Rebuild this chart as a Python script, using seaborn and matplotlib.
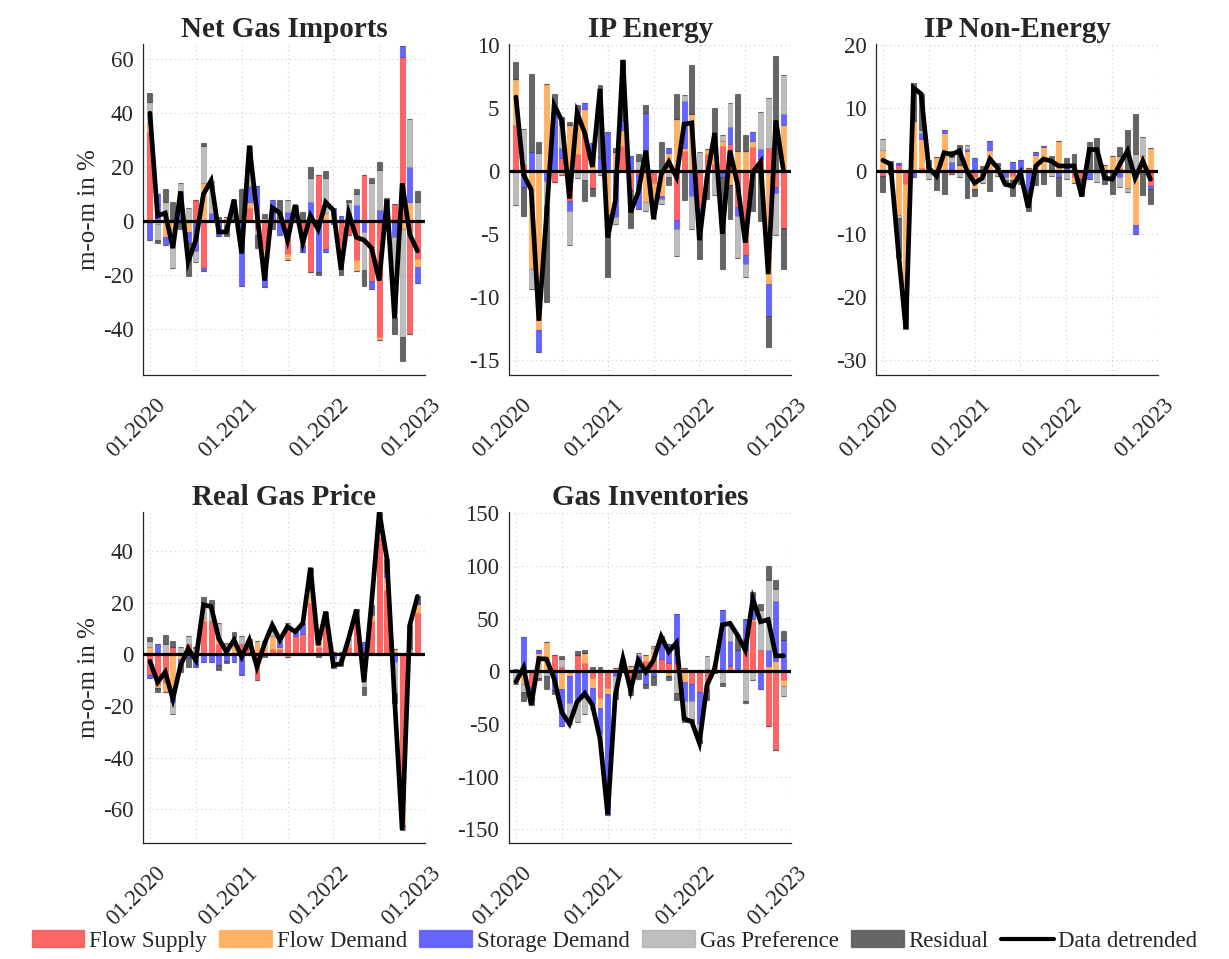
import matplotlib

matplotlib.use("Agg")

import matplotlib.pyplot as plt
import numpy as np
import seaborn as sns
from matplotlib.patches import Patch
from matplotlib.lines import Line2D
from matplotlib.transforms import ScaledTranslation

sns.set_theme(style="white")
plt.rcParams["font.family"] = ["Liberation Serif", "DejaVu Serif"]
plt.rcParams["axes.unicode_minus"] = False

# ---- data (m-o-m in %, 01.2020 ... 12.2022) ----
tick_labels = ["01.2020", "01.2021", "01.2022", "01.2023"]
series_names = ["Flow Supply", "Flow Demand", "Storage Demand", "Gas Preference", "Residual"]

imports_supply = [33, 0, 0, 0, 0, 0, 8, -17.5, 0, 0, 0, 0, 0, 5, -3, -10, 0, 1,
                  -12, 0, -8, -19, 17, -10.5, 0, -9, -5, -14.5, 17, -22, -43, 3, 6.5, 61, -42, -14]
imports_demand = [3, -1, -6, -3, 0, -4, 0, 14, 0, 0, 1.5, 0, 0, 2, 0, -4, 0, 0,
                  -2.5, 0, -1, 0, 0, 3, 2, -5, 0, -4, 0, 0, -1, 0, 0, -3, 7, -3]
imports_storage = [-7, 10, -3, 0, 11, -4, -11, -1, 3, -5.5, 0, 0.5, -24, 6, 13, -10.5, 8, -5,
                   3.5, 4, -2.5, 7, -19, -1, 3, 2, 3, 6, -4, -3, 4, 0, -6, 4, 13, -6]
imports_pref = [8, -6, 7, -14.5, 3, 5, -4, 14, 12, 0, -1.5, 0, 0, 8, -2, 1, 0, 0,
                4.5, 0, 0, 9, 0, 13, 0, 0, 4, 4, -14, 14, 15, 4, -30, -40, 18, 7]
imports_resid = [3.5, -1, 5, 7, -3, -12.5, 0, 1, 0, 1.5, -4, 7.5, 12, 7, -5, 1.5, -3, 7,
                 0, 2, 3.5, 4, -1, 2.5, -1, -6, 1, 2, -6, 2, 3, 1.5, -6, -9, 0, 4]
imports_data = [40, 2, 3, -10, 11, -15, -7, 10, 15, -4, -4, 8, -12, 28, 3, -22, 5, 3,
                -7, 6, -8, 2, -3, 7, 4, -18, 3, -6, -7, -10, -22, 8, -36, 14, -5, -11]

ipe_supply = [3.6, 0.5, 0, 0, 0, -0.9, 1, -2.4, 1.3, 3, -1.4, 0, 0, 0, 2, -1.5, -0.3, 1.5,
              -1, 0, 0, -3.9, 1.6, 0, -3, 1.3, 0.5, 2, 2.1, -2.9, -6.7, 1.9, 0.9, 1.8, -1.3, -4.5]
ipe_demand = [3.7, 0, -7.8, -12.6, 6.9, 0, -0.3, 3.6, 3.4, 1.9, 1.5, 0, -3.5, 1.5, 1.2, 0, 0, -2.5,
              -2, -2, 1.4, 4.1, 0.2, 4.5, 0, 0.4, 1, 0.4, -1.1, 1.6, 1.6, 0.5, 0, -9, 0, 3.6]
ipe_storage = [0, -1.3, 1.5, -1.8, -0.8, 4.7, 0.8, -0.8, 0, 0.5, 0.7, 1, 3.1, -3.7, 0.8, 1.2, -2.7, 3.1,
               0, -0.2, 0.4, -0.7, 3.7, -2, -1.5, -0.4, 0, -0.5, 1.4, -0.7, -0.7, 0.7, 0.8, -2.5, -0.5, 0.9]
ipe_pref = [-2.7, 2.8, -1.6, 1.4, -2, 0.3, 1.8, -2.7, -0.6, -0.7, 0, -0.3, 0, -0.5, 0, 0, 0.8, -0.7,
            -0.8, -0.4, -0.5, -2.2, 0.5, -2.6, 1.5, 0, -1.9, 0.4, 1.9, -3.3, -1, 0, 3, 4, -3.3, 3.1]
ipe_resid = [1.3, -2.3, 6.2, 0.9, -7.6, 1.1, 0.7, 0.3, 0.5, -1.7, -0.6, 5.8, -4.9, 0.3, 4.8, -3, 0.5, 0.6,
             0, 2.3, -0.6, 2, -2.3, 3.9, -2.5, -1.8, 3.5, -7.3, -2.7, 4.5, 1.2, -3.2, -4, -2.5, 9.1, -3.3]
ipe_data = [5.85, -0.3, -1.5, -11.9, -3.5, 5.2, 4.0, -2.2, 4.6, 3.0, 0.3, 6.5, -5.3, -2.4, 8.8, -3.3,
            -1.7, 1.6, -3.8, -0.3, 0.7, -0.5, 3.7, 3.8, -5.5, -0.5, 3.0, -5.0, 1.6, -1.1, -5.7, -0.1,
            0.7, -8.2, 4.0, 0]

ipn_supply = [-0.8, 0, 1, -2, 0, 0.5, 0, 0, 0, -0.5, 0, 0, -1, -0.7, 0, 0, 0, -0.8,
              0, 0.5, 0, 0, 0, 0, 0, -0.9, -1.2, 0, 0, 0, 0, 0.5, 0, 0, 0, -2.4]
ipn_demand = [3.4, 0, -7, -19, 8, 4.5, 0, 2.2, 6, 0, 1, 3.2, -1.8, 0, 3.4, 0, 0, -0.6,
              -1, 0, 2.5, 3.8, 0, 4.8, 0, -1, 0, 0, 0, 1, 2.4, 1.9, -2.7, -8.5, 2.4, 3.7]
ipn_storage = [0, -0.5, 0.3, -1.5, -1, 1, 0, -0.8, 0.5, 1.5, 0, 0.3, 2, 0, 1.4, 1, -1, 1.5,
               1.7, -3, 0.5, 0.2, 0, -1, 0.5, 0, 0, -1.2, 0, 0, 0, -1, 0, -1.5, 0, -0.5]
ipn_pref = [1.6, 0, -0.5, 0, 0, 0.5, -1.2, 0, 0, 0.8, -1, 0.7, 0, -1.2, 0, -0.8, -0.5, 0,
            -0.5, 0, 0, 0, -0.8, 0, -1.3, 0, 0, 0, -1.8, 0, 0, -1.5, -0.6, 2.7, 3, 0]
ipn_resid = [-2.5, 1.6, -6.3, -2.5, 6, 5.7, 1.7, -2.2, -3.6, 0.8, 3.2, -4.2, -1.1, 0.8, -3.2, 0.3, -0.6, -2.5,
             -0.5, -3.3, -2.2, -2.1, 2.4, -3, 1.6, 2.7, -2.8, 4.6, 5.2, -2.1, -3.7, 1.4, 6.5, 6.4, -3.8, -2.3]
ipn_data = [1.7, 1.1, -12.5, -25, 13.2, 12.2, 0.5, -0.8, 2.9, 2.6, 3.2, 0, -1.9, -1.1, 1.9, 0.5, -2.1,
            -2.4, -0.3, -5.8, 0.8, 1.9, 1.6, 0.8, 0.8, 0.8, -4.0, 3.4, 3.4, -1.1, -1.3, 1.1, 3.2, -1.1,
            1.6, -1.3]

price_supply = [-8, -12, -11, 3, 0, 4, 0.5, 13, 13, 4, 0, 0.5, 4, 4, -10, 0.2, 2, 2,
                10, 7, 8, 20, 3, 12, 0, 0, 3, 13, 0, 13, 45, 25, 0, -58, 1, 16]
price_demand = [3, -1, -3.5, -17, -2, 0, 0, 1, 0, 2, 4, 4, 0, 0.5, 5, 4, 5, 1,
                -1, 0, 0, 5, 1.5, 3, 1, 1, 0.5, 1, 0, 2, 4, 5, 2, -8, 0, 3.5]
price_storage = [-1, 4, 0, -1.5, -1, -1, -5, -3, -3, -4, -2.5, -3, -8, 0, 0, 0, 0, 2,
                 0, 2, 4, 2, 0, 0, -1.5, 0, 0, 0, 4.8, 1, 3, 2, -3, -1, 0, 0.5]
price_pref = [2, 0, 4, -4.5, 3, 3, 2, 6, 5, 6, 0.5, 2, 3, 0, 0, 1, 2, 1,
              2, 0, 0, 5, 0, 1, -2, -2, 2.5, 2.5, -12.8, 0, 2, 0, -12, -1, 1, 0]
price_resid = [1.5, -1.5, 3.5, 2, -4, -4, 0.2, 2, 3, -2, -1, 2, 0, 1.5, 0, -1, 2, 0,
               0, 0, 0, 1.5, -1, 0.5, -2, -2.5, 0, 1, -2.8, 3, 1, 5, -4, 0, 9.3, 2.4]
price_data = [-2.7, -10.8, -6.9, -17.3, -4.3, 2.2, -2.3, 19.1, 18.5, 6.1, 0.9, 5.5, -1.0, 5.5, -4.9,
              4.2, 11.3, 5.5, 10.7, 8.7, 12, 33.5, 3.5, 16.5, -4.3, -3.6, 6.1, 17.2, -10.8, 20, 55,
              37, -17, -68, 11.3, 22.4]

inv_supply = [0, 0, -15, 0, 0, 15, 4, 0, 15, 8, -6, -25, -16, 0, 1, -8, 0, 10,
              13, 12, 8, 8, 3, -12, -20, -18, 2, 2, 5, 0, 20, 48, 20, -52, -75, -8]
inv_demand = [0, -12, 0, 17, 28, 0, -17, -5, 0, 9, -10, -10, -6, 3, 5, 5, 0, 5,
              9, 0, -5, 0, -10, 0, 0, 2, 3, 0, 0, 0, 0, 2, 0, 5, 10, -6]
inv_storage = [0, 32, -10, 3, 0, -18, -35, -25, -25, -25, -15, -25, -114, -5, 0, 0, 14, -12,
               -5, 15, 18, 46, -18, -16, -30, 0, -2, 56, 24, 20, 30, 22, -17, 15, 57, 30]
inv_pref = [-12, -8, 0, -6, -5, 0, 8, -20, -23, -16, -5, -8, 0, -15, 0, -5, 3, 0,
            2, 0, 0, -21, -17, -17, -15, 12, 0, -11, 16, 0, -28, -8, 38, 67, 11, -10]
inv_resid = [2, -8, -7, -2, -11.5, -4, 2, 0, 4, 3, 4, 4, 0, -6, 6, -10, -7, -3.5,
             -8.5, 6, -3, -6, -3, -3, -3, -9, 0, -3, 0.5, 14, -2, 3, 6, 13, 9, 8]
inv_data = [-10, 3.5, -32, 12, 11.5, -7, -39, -50, -29, -21, -32, -64, -136, -23, 12, -18, 10.5,
            -0.6, 10.5, 33, 18.5, 27, -45, -48, -68, -13, 2.5, 44, 45.5, 34, 20, 68.5, 47, 49,
            14.6, 14.6]

panels = [
    ("Net Gas Imports", [imports_supply, imports_demand, imports_storage, imports_pref, imports_resid],
     imports_data, (-57, 65.6), [-40, -20, 0, 20, 40, 60]),
    ("IP Energy", [ipe_supply, ipe_demand, ipe_storage, ipe_pref, ipe_resid],
     ipe_data, (-16.2, 10.05), [-15, -10, -5, 0, 5, 10]),
    ("IP Non-Energy", [ipn_supply, ipn_demand, ipn_storage, ipn_pref, ipn_resid],
     ipn_data, (-32.3, 20.1), [-30, -20, -10, 0, 10, 20]),
    ("Real Gas Price", [price_supply, price_demand, price_storage, price_pref, price_resid],
     price_data, (-73, 55), [-60, -40, -20, 0, 20, 40]),
    ("Gas Inventories", [inv_supply, inv_demand, inv_storage, inv_pref, inv_resid],
     inv_data, (-163, 151), [-150, -100, -50, 0, 50, 100, 150]),
]

# ---- styling ----
face_colors = [(1, 0, 0), (1, 0.5, 0), (0, 0, 1), (0.58, 0.58, 0.58), (0.0, 0.0, 0.0)]
edge_colors = ["#ff3030", "#ffa040", "#4040ff", "#a0a0a0", "#3a3a3a"]
ALPHA = 0.6
axis_color = "#262626"

# axes rectangles in figure fraction (left, bottom, width, height)
W, H = 0.2295, 0.345
rects = [
    (0.1164, 0.609, W, H),
    (0.4142, 0.609, W, H),
    (0.7128, 0.609, W, H),
    (0.1164, 0.121, W, H),
    (0.4142, 0.121, W, H),
]

fig = plt.figure(figsize=(12.29, 9.59), dpi=100)
months = np.arange(36)
label_shift = ScaledTranslation(5 / 100, -3 / 100, fig.dpi_scale_trans)

for i, (title, comps, data, ylim, yticks) in enumerate(panels):
    ax = fig.add_axes(rects[i])
    pos_base = np.zeros(len(months))
    neg_base = np.zeros(len(months))
    for vals, fc, ec in zip(comps, face_colors, edge_colors):
        v = np.asarray(vals, dtype=float)
        pos = np.where(v > 0, v, 0)
        neg = np.where(v < 0, v, 0)
        ax.bar(months, pos, bottom=pos_base, width=0.64, color=fc, alpha=ALPHA,
               edgecolor=ec, linewidth=0.8, zorder=2)
        ax.bar(months, neg, bottom=neg_base, width=0.64, color=fc, alpha=ALPHA,
               edgecolor=ec, linewidth=0.8, zorder=2)
        pos_base += pos
        neg_base += neg
    ax.axhline(0, color="black", lw=2.3, zorder=3)
    sns.lineplot(x=months, y=data, ax=ax, color="black", lw=3.4, zorder=4,
                 solid_joinstyle="miter")

    ax.set_xlim(-0.9, 36)
    ax.set_ylim(*ylim)
    ax.set_yticks(yticks)
    ax.set_xticks(np.arange(0, 37, 6))
    ax.set_xticklabels([tick_labels[k // 12] if k % 12 == 0 else "" for k in range(0, 37, 6)],
                       rotation=45, ha="right", va="top", rotation_mode="anchor")
    ax.tick_params(axis="both", direction="in", length=4, width=0.8, color=axis_color,
                   labelsize=16.5, labelcolor="#262626")
    ax.tick_params(axis="y", pad=7)
    ax.tick_params(axis="x", pad=12)
    for lbl in ax.get_xticklabels():
        lbl.set_transform(lbl.get_transform() + label_shift)
    ax.grid(True, which="major", linestyle=(0, (1, 3)), color="#cfcfcf", lw=0.8)
    for side in ["top", "right"]:
        ax.spines[side].set_visible(False)
    for side in ["left", "bottom"]:
        ax.spines[side].set_color(axis_color)
        ax.spines[side].set_linewidth(0.9)
    ax.set_title(title, fontsize=21, fontweight="bold", pad=5)
    if i in (0, 3):
        ax.set_ylabel("m-o-m in %", fontsize=18, labelpad=2)

handles = [Patch(facecolor=fc, alpha=ALPHA, edgecolor=ec, lw=1.0)
           for fc, ec in zip(face_colors, edge_colors)]
handles.append(Line2D([0], [0], color="black", lw=3))
fig.legend(handles, series_names + ["Data detrended"], loc="lower center",
           bbox_to_anchor=(0.5, -0.014), ncol=6, frameon=False, fontsize=16.5,
           handlelength=2.3, handleheight=0.75, handletextpad=0.2, columnspacing=0.55)

fig.savefig("out.png", dpi=100)
